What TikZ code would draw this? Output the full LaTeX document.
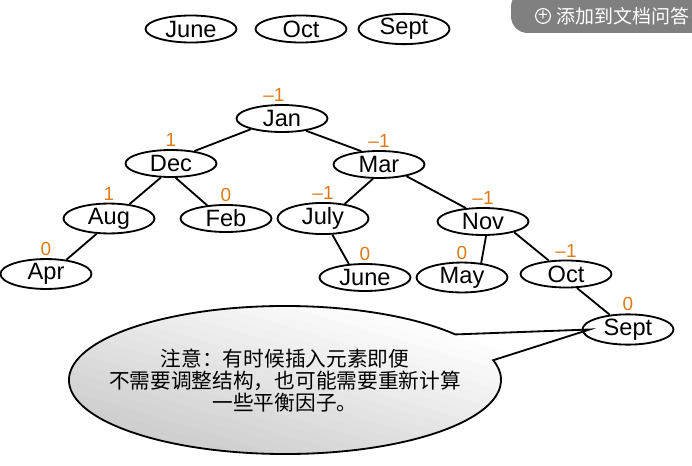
\documentclass[tikz,border=0pt]{standalone}
\usepackage{fontspec}
\setmainfont{Liberation Sans}
\newfontfamily\cjk{Noto Sans CJK SC}
\usetikzlibrary{shapes.geometric, positioning}
\definecolor{balorange}{RGB}{222,122,22}
\definecolor{badgegray}{RGB}{128,128,128}
\tikzset{
  month/.style={ellipse, draw, line width=1.3pt,
                minimum width=2.275cm, minimum height=0.675cm,
                inner sep=0pt, font=\fontsize{16.8}{17}\selectfont},
  bal/.style={text=balorange, inner sep=1.5pt,
              font=\fontsize{13.5}{14}\selectfont},
  link/.style={line width=1.3pt},
}

\begin{document}
\begin{tikzpicture}[
  x=0.025cm, y=0.025cm,
  bubble/.style={draw, line width=1.3pt},
  note/.style={align=center, inner sep=0pt,
               font=\cjk\fontsize{14.7}{15.9}\selectfont},
]
  \useasboundingbox (0,0) rectangle (692,-466);
  % badge in the corner
  \begin{scope}
    \clip (0,0) rectangle (692,-466);
    \fill[badgegray, rounded corners=0.42cm] (511,10) rectangle (730,-33);
  \end{scope}
  \node[circle, draw=white, line width=0.8pt, minimum size=0.37cm,
        inner sep=0pt, text=white, font=\fontsize{12}{12}\selectfont]
        (plusicon) at (543,-16) {+};
  \node[anchor=west, inner sep=0pt, text=white,
        font=\cjk\fontsize{13.5}{14}\selectfont]
        (badge) at (556,-16) {添加到文档问答};

  % keys still to insert
  \node[month] (topjune) at (191,-29) {June};
  \node[month] (topoct) at (301,-29) {Oct};
  \node[month] (topsept) at (404,-29) {Sept};

  % the tree with balance factors
  \node[month, label={[bal, xshift=-0.2cm]above:–1}] (jan) at (282,-118.5) {Jan};
  \node[month, label={[bal]above:1}] (dec) at (171,-163.5) {Dec};
  \node[month, label={[bal]above:–1}] (mar) at (379,-164.5) {Mar};
  \node[month, label={[bal]above:1}] (aug) at (109,-218.5) {Aug};
  \node[month, label={[bal]above:0}] (feb) at (226,-218.5) {Feb};
  \node[month, label={[bal]above:–1}] (july) at (323,-218.5) {July};
  \node[month, label={[bal]above:–1}] (nov) at (483,-221.5) {Nov};
  \node[month, label={[bal]above:0}] (apr) at (46,-274) {Apr};
  \node[month, label={[bal]above:0}] (june) at (365,-277.5) {June};
  \node[month, label={[bal]above:0}] (may) at (462,-277.5) {May};
  \node[month, label={[bal]above:–1}] (oct) at (566,-274) {Oct};
  \node[month, label={[bal]above:0}] (sept) at (628,-329.5) {Sept};

  \draw[link] (jan.199) -- (dec.28);
  \draw[link] (jan.333) -- (mar.143);
  \draw[link] (dec.234) -- (aug.35);
  \draw[link] (dec.288) -- (feb.145);
  \draw[link] (aug.231) -- (apr.35);
  \draw[link] (mar.247) -- (july.34);
  \draw[link] (mar.337) -- (nov.142);
  \draw[link] (july.300) -- (june.140);
  \draw[link] (nov.282) -- (may.37);
  \draw[link] (nov.341) -- (oct.142);
  \draw[link] (oct.308) -- (sept.141);

  % callout, grey strips (written flipped, they render flipped)
  \coordinate (bubblec) at (285,-380);
  \coordinate (tip) at ([xshift=0.2cm]sept.west);
  \begin{scope}
    \clip (bubblec) ++(38:5.4cm and 1.85cm)
      arc[start angle=38, end angle=375.5, x radius=5.4cm, y radius=1.85cm]
      -- (tip) -- cycle;
    \foreach \i in {0,...,20}{
      \pgfmathsetmacro\grayval{max(0,20-1*\i)}
      \fill[black!\grayval] (0,-400+10*\i) -- (700,-610+10*\i)
        -- (700,-599+10*\i) -- (0,-389+10*\i) -- cycle;
    }
  \end{scope}
  \draw[bubble] (bubblec) ++(38:5.4cm and 1.85cm)
    arc[start angle=38, end angle=375.5, x radius=5.4cm, y radius=1.85cm]
    -- (tip) -- cycle;
  \node[note] (remark) at (285,-380.5)
    {注意：有时候插入元素即便\\不需要调整结构，也可能需要重新计算\\一些平衡因子。};
\end{tikzpicture}
\end{document}
